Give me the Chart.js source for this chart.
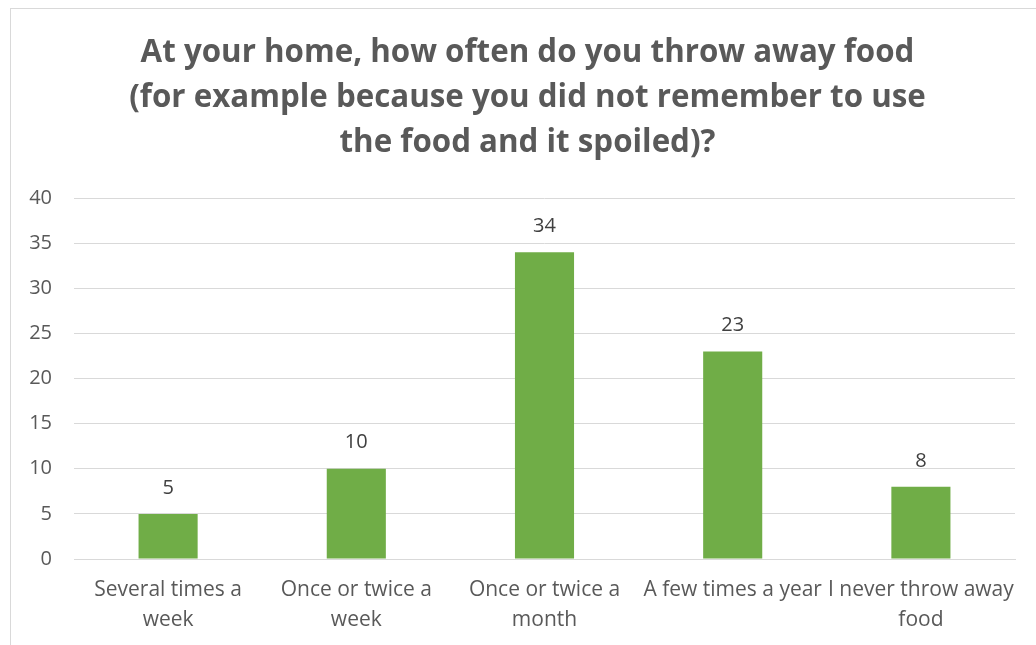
<!DOCTYPE html>
<html>
<head>
<meta charset="utf-8">
<script src="https://cdn.jsdelivr.net/npm/chart.js@4/dist/chart.umd.min.js"></script>
<style>
  html, body { margin: 0; padding: 0; background: #fff; }
  #wrap { position: relative; width: 1036px; height: 645px; }
  #frame { position: absolute; left: 10px; top: 8px; width: 1040px; height: 660px;
           border-top: 1.5px solid #d9d9d9; border-left: 1.5px solid #d9d9d9; pointer-events: none; }
  canvas { position: absolute; left: 0; top: 0; }
</style>
</head>
<body>
<div id="wrap">
  <canvas id="c" width="1036" height="645"></canvas>
  <div id="frame"></div>
</div>
<script>
const titleLines = [
  "At your home, how often do you throw away food",
  "(for example because you did not remember to use",
  "the food and it spoiled)?"
];
const categories = [
  ["Several times a", "week"],
  ["Once or twice a", "week"],
  ["Once or twice a", "month"],
  "A few times a year",
  ["I never throw away", "food"]
];
const values = [5, 10, 34, 23, 8];
const yTicks = { min: 0, max: 40, step: 5 };

const FONT = "'Open Sans', 'Liberation Sans', sans-serif";

const dataLabels = {
  id: 'dataLabels',
  afterDatasetsDraw(chart) {
    const ctx = chart.ctx;
    const meta = chart.getDatasetMeta(0);
    ctx.save();
    ctx.font = "20px " + FONT;
    ctx.fillStyle = "#404040";
    ctx.textAlign = "center";
    ctx.textBaseline = "middle";
    meta.data.forEach((bar, i) => {
      ctx.fillText(String(values[i]), bar.x, bar.y - 26);
    });
    ctx.restore();
  }
};

const shiftTitle = {
  id: 'shiftTitle',
  afterLayout(chart) {
    const t = chart.titleBlock;
    if (t) { t.left = 40; t.right = chart.chartArea.right; }
  }
};

new Chart(document.getElementById('c'), {
  type: 'bar',
  data: {
    labels: categories,
    datasets: [{
      data: values,
      backgroundColor: '#70ad47',
      borderWidth: 0,
      barPercentage: 1,
      categoryPercentage: 0.314
    }]
  },
  options: {
    responsive: false,
    animation: false,
    layout: { padding: { left: 0, right: 21, top: 8, bottom: 0 } },
    plugins: {
      legend: { display: false },
      tooltip: { enabled: false },
      title: {
        display: true,
        text: titleLines,
        color: '#595959',
        font: { family: FONT, size: 31.3, weight: 'bold', lineHeight: 45 / 31.3 },
        padding: { top: 23, bottom: 32 }
      }
    },
    scales: {
      x: {
        afterFit(scale) { scale.height = 86; },
        grid: { display: false, drawTicks: false },
        border: { display: true, color: '#d9d9d9', width: 1 },
        ticks: {
          color: '#595959',
          font: { family: FONT, size: 21, lineHeight: 30 / 21 },
          padding: 16,
          maxRotation: 0,
          minRotation: 0,
          autoSkip: false
        }
      },
      y: {
        min: yTicks.min,
        max: yTicks.max,
        afterFit(scale) { scale.width = 74; },
        grid: { color: '#d9d9d9', lineWidth: 1, drawTicks: false },
        border: { display: false },
        ticks: {
          stepSize: yTicks.step,
          color: '#595959',
          font: { family: FONT, size: 20 },
          padding: 22
        }
      }
    }
  },
  plugins: [dataLabels, shiftTitle]
});
</script>
</body>
</html>
